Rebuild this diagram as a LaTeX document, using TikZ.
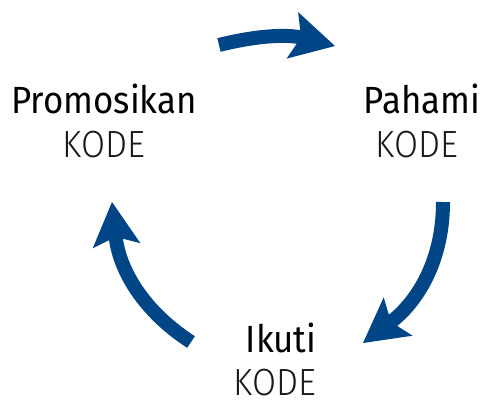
\documentclass[tikz,border=0pt]{standalone}
\usepackage{fontspec}
\setmainfont{Fira Sans}[FakeStretch=0.92]
\IfFontExistsTF{Fira Sans Light}
  {\newfontfamily\kodefont{Fira Sans Light}[FakeStretch=0.92]}
  {\newfontfamily\kodefont{Fira Sans}[FakeStretch=0.92]}
\IfFontExistsTF{Fira Sans Book}
  {\newfontfamily\titlefont{Fira Sans Book}[FakeStretch=0.92]}
  {\newfontfamily\titlefont{Fira Sans}[FakeStretch=0.92]}
\usetikzlibrary{arrows.meta}
\definecolor{cycleblue}{RGB}{0,70,135}
\begin{document}
\begin{tikzpicture}[x=1bp,y=1bp,
  cyclearrow/.style={draw=cycleblue, line width=14bp,
    -{Stealth[length=44bp,width=48bp,inset=9bp,line width=0pt]}},
  title/.style={anchor=base, inner sep=0pt, font=\titlefont\fontsize{38}{38}\selectfont, text=black},
  kode/.style={anchor=base, inner sep=0pt, font=\kodefont\fontsize{38}{38}\selectfont, text=black!90}]
\useasboundingbox (0,0) rectangle (483,399);
% labels
\node[title] (promo) at (104,286) {Promosikan};
\node[kode] (promok) at (104,242) {KODE};
\node[title] (pahami) at (422,286) {Pahami};
\node[kode] (pahamik) at (417,242) {KODE};
\node[title] (ikuti) at (281,47) {Ikuti};
\node[kode] (ikutik) at (275,3.5) {KODE};
% arrow end points
\coordinate (t1) at (219,354);
\coordinate (h1) at (335,353);
\coordinate (t2) at (443,197);
\coordinate (h2) at (363,56);
\coordinate (t3) at (191,57);
\coordinate (h3) at (112,197);
\draw[cyclearrow] (t1) to[out=14,in=166] (h1);
\draw[cyclearrow] (t2) to[out=-90,in=37] (h2);
\draw[cyclearrow] (t3) to[out=147,in=-84] (h3);
\end{tikzpicture}
\end{document}
